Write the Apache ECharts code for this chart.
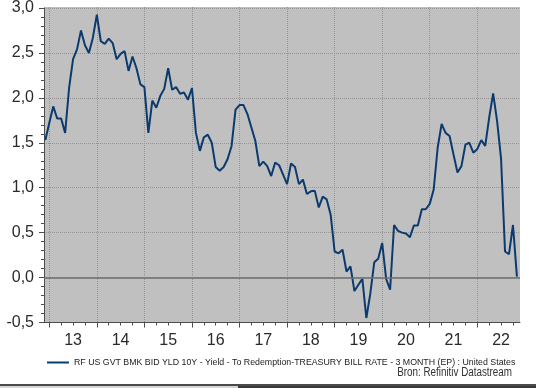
<!DOCTYPE html>
<html>
<head>
<meta charset="utf-8">
<script src="https://cdn.jsdelivr.net/npm/echarts@6/dist/echarts.min.js"></script>
<style>
html,body{margin:0;padding:0;background:#ffffff;}
#chart{width:536px;height:388px;}
</style>
</head>
<body>
<div id="chart"></div>
<script>
// ---- data (monthly, first observation Dec 2012) ----
const firstYear = 2012;
const firstMonthIndex = 11; // December (0-based)
const spreadValues = [
  1.53, 1.72, 1.905, 1.77, 1.77, 1.61, 2.11, 2.43, 2.54, 2.75, 2.585, 2.50,
  2.67, 2.925, 2.63, 2.60, 2.66, 2.61, 2.43, 2.49, 2.52, 2.30, 2.46, 2.33,
  2.15, 2.12, 1.61, 1.97, 1.89, 2.02, 2.10, 2.33, 2.09, 2.12, 2.045, 2.06,
  1.98, 2.11, 1.61, 1.41, 1.56, 1.59, 1.50, 1.23, 1.19, 1.23, 1.32, 1.465,
  1.87, 1.92, 1.92, 1.82, 1.67, 1.52, 1.24, 1.29, 1.24, 1.13, 1.28, 1.25,
  1.145, 1.04, 1.27, 1.23, 1.04, 1.09, 0.93, 0.96, 0.965, 0.78, 0.90, 0.87,
  0.70, 0.29, 0.27, 0.31, 0.067, 0.125, -0.15, -0.08, -0.015, -0.45, -0.18, 0.17,
  0.21, 0.385, -0.015, -0.135, 0.585, 0.52, 0.50, 0.49, 0.45, 0.58, 0.58, 0.76,
  0.76, 0.82, 0.98, 1.445, 1.71, 1.61, 1.575, 1.37, 1.17, 1.24, 1.48, 1.50,
  1.39, 1.43, 1.53, 1.465, 1.78, 2.05, 1.74, 1.32, 0.29, 0.26, 0.585, 0.01
];
const tickYears = [2013, 2014, 2015, 2016, 2017, 2018, 2019, 2020, 2021, 2022];
const tickLabels = ['13', '14', '15', '16', '17', '18', '19', '20', '21', '22'];
const quarterOffsets = [0.25, 0.5, 0.75];
const seriesName = 'RF US GVT BMK BID YLD 10Y - Yield - To Redemption-TREASURY BILL RATE - 3 MONTH (EP) : United States';
const sourceText = 'Bron: Refinitiv Datastream';

// x in decimal years
const seriesData = spreadValues.map((v, i) => [firstYear + (firstMonthIndex + i) / 12, v]);
const xMin = 2012.889, xMax = 2022.898;
const labelPositions = tickYears.map(y => y + 0.5);
const minorPositions = [];
tickYears.forEach(y => quarterOffsets.forEach(q => minorPositions.push(y + q)));
const labelMap = {};
tickYears.forEach((y, i) => { labelMap[(y + 0.5).toFixed(1)] = tickLabels[i]; });

// layout of main plot
const PL = 44, PR = 16, PT = 7, PB = 65.5, W = 536, H = 388;
const plotW = W - PL - PR;
const pxOf = v => PL + (v - xMin) / (xMax - xMin) * plotW;
const gLeft = pxOf(tickYears[0]);
const gRight = W - pxOf(tickYears[tickYears.length - 1]);

const FONT = 'Liberation Sans, Arial, sans-serif';
const gridDot = {color: '#959595', type: 'dotted', width: 1, opacity: 1};
const chart = echarts.init(document.getElementById('chart'), null, {renderer: 'canvas'});
chart.setOption({
  animation: false,
  backgroundColor: '#ffffff',
  grid: [
    {left: PL, right: PR, top: PT, bottom: PB, show: false},
    {left: gLeft, right: gRight, top: PT, bottom: PB, show: false}
  ],
  legend: {
    show: true, left: 42, top: 353, itemWidth: 22, itemHeight: 2, icon: 'rect',
    textStyle: {fontSize: 8.8, color: '#222', fontFamily: FONT},
    data: [seriesName]
  },
  xAxis: [
    {
      type: 'value', gridIndex: 0, min: xMin, max: xMax, z: 2,
      axisLine: {show: true, onZero: false, lineStyle: {color: '#4d4d4d', width: 1}},
      axisTick: {show: true, length: 5, customValues: tickYears, lineStyle: {color: '#4d4d4d'}},
      axisLabel: {
        show: true, customValues: labelPositions, margin: 10, fontSize: 16, color: '#2a2a2a', fontFamily: FONT,
        formatter: v => labelMap[Number(v).toFixed(1)] || ''
      },
      splitLine: {show: false}
    },
    {
      type: 'value', gridIndex: 0, min: xMin, max: xMax, position: 'bottom', z: 2,
      axisLine: {show: false, onZero: false},
      axisTick: {show: true, length: 3, customValues: minorPositions, lineStyle: {color: '#4d4d4d'}},
      axisLabel: {show: false},
      splitLine: {show: false}
    },
    {
      type: 'value', gridIndex: 1, min: tickYears[0], max: tickYears[tickYears.length - 1], interval: 1, z: 1,
      axisLine: {show: false, onZero: false}, axisTick: {show: false}, axisLabel: {show: false},
      splitLine: {show: true, lineStyle: gridDot}
    }
  ],
  yAxis: [
    {
      type: 'value', gridIndex: 0, min: -0.5, max: 3, interval: 0.5, z: 1,
      axisLine: {show: true, lineStyle: {color: '#4d4d4d', width: 1}},
      axisTick: {show: true, length: 5, lineStyle: {color: '#4d4d4d'}},
      minorTick: {show: true, splitNumber: 5, length: 3, lineStyle: {color: '#4d4d4d'}},
      axisLabel: {
        margin: 10, fontSize: 16, color: '#2a2a2a', fontFamily: FONT,
        formatter: v => v.toFixed(1).replace('.', ',')
      },
      splitLine: {show: true, lineStyle: gridDot}
    },
    {
      type: 'value', gridIndex: 1, min: -0.5, max: 3, interval: 0.5, show: false
    }
  ],
  series: [
    {
      name: 'zeroline', type: 'line', xAxisIndex: 0, yAxisIndex: 0, data: [], z: 2, silent: true,
      markLine: {
        silent: true, symbol: 'none', label: {show: false}, animation: false,
        lineStyle: {color: '#6e6e6e', width: 1.5, type: 'solid'},
        data: [{yAxis: 0}]
      }
    },
    {
      name: seriesName, type: 'line', xAxisIndex: 0, yAxisIndex: 0, data: seriesData, z: 3,
      showSymbol: false, symbol: 'none',
      lineStyle: {color: '#0b3a6e', width: 2},
      itemStyle: {color: '#0b3a6e'}
    }
  ],
  graphic: [
    {type: 'rect', z: -100, silent: true, shape: {x: PL, y: PT, width: plotW, height: H - PT - PB}, style: {fill: '#c0c0c0'}},
    {type: 'text', x: 512, y: 373, scaleX: 0.82, style: {text: sourceText, fontSize: 12, fill: '#333', fontFamily: FONT, align: 'right', verticalAlign: 'middle'}},
    {type: 'rect', shape: {x: 0, y: 384, width: 536, height: 2}, style: {fill: '#4a4a4a'}},
    {type: 'rect', shape: {x: 0, y: 386, width: 238, height: 2}, style: {fill: '#d4d4d4'}},
    {type: 'rect', shape: {x: 238, y: 386, width: 298, height: 2}, style: {fill: '#3a3a3a'}}
  ]
});
</script>
</body>
</html>
